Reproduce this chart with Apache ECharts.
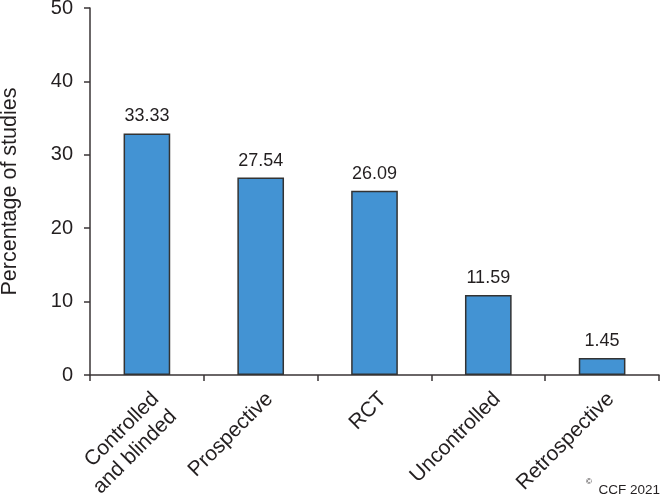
<!DOCTYPE html>
<html><head><meta charset="utf-8">
<script src="https://cdn.jsdelivr.net/npm/echarts@6/dist/echarts.min.js"></script>
<style>html,body{margin:0;padding:0;background:#fff}#c{width:661px;height:500px}</style>
</head><body><div id="c"></div>
<script>
const categories = ['Controlled\nand blinded', 'Prospective', 'RCT', 'Uncontrolled', 'Retrospective'];
const barValues = [32.9, 26.9, 25.1, 10.9, 2.3];
const labelTexts = ['33.33', '27.54', '26.09', '11.59', '1.45'];
const yTicks = [0, 10, 20, 30, 40, 50];

const chart = echarts.init(document.getElementById('c'), null, {renderer: 'canvas'});
const font = 'Liberation Sans, Arial, sans-serif';
const axisColor = '#3a3536';
const textColor = '#231f20';
chart.setOption({
  animation: false,
  grid: {left: 90, right: 2, top: 8, bottom: 125, containLabel: false, outerBoundsMode: 'none'},
  xAxis: {
    type: 'category', data: categories,
    axisLine: {lineStyle: {color: axisColor, width: 1.5}},
    axisTick: {show: true, length: 6, inside: false, lineStyle: {color: axisColor, width: 1.5}},
    axisLabel: {rotate: 45, color: textColor, fontSize: 21, fontFamily: font, margin: 12, interval: 0,
      lineHeight: 25, align: 'right', verticalAlign: 'top'}
  },
  yAxis: {
    type: 'value', min: yTicks[0], max: yTicks[yTicks.length - 1], interval: 10,
    name: 'Percentage of studies', nameLocation: 'middle', nameGap: 69,
    nameTextStyle: {color: textColor, fontSize: 21.5, fontFamily: font},
    axisLine: {show: true, lineStyle: {color: axisColor, width: 1.5}},
    axisTick: {show: true, length: 6, lineStyle: {color: axisColor, width: 1.5}},
    axisLabel: {color: textColor, fontSize: 20, fontFamily: font, margin: 17},
    splitLine: {show: false}
  },
  series: [{
    type: 'bar', data: barValues, barWidth: '41%',
    itemStyle: {color: '#4393d3', borderColor: '#333333', borderWidth: 1.5},
    label: {show: true, position: 'top', distance: 8, color: textColor, fontSize: 18, fontFamily: font,
      formatter: p => labelTexts[p.dataIndex]}
  }],
  graphic: [
    {type: 'text', right: 1, bottom: 3, style: {text: 'CCF 2021', fontSize: 13.5, fontFamily: font, fill: textColor}},
    {type: 'text', right: 69, bottom: 14, style: {text: '©', fontSize: 8, fontFamily: font, fill: textColor}}
  ]
});
</script></body></html>
